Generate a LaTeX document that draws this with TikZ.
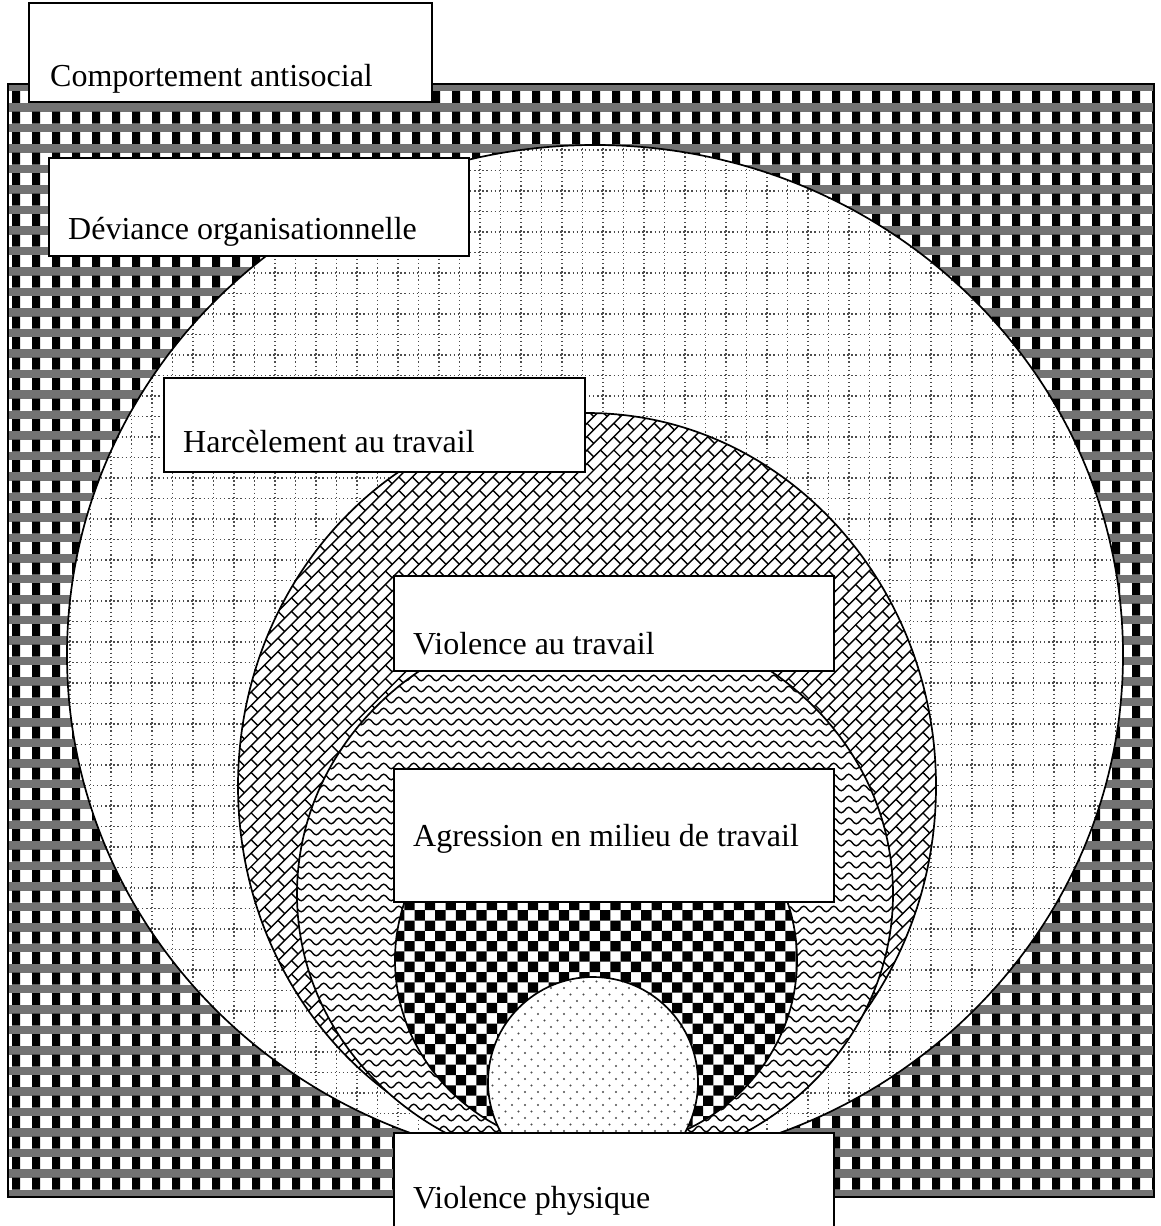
\documentclass[tikz,border=0pt]{standalone}
\usepackage{fontspec}
\setmainfont{Liberation Serif}

\tikzset{
  outline/.style={draw=black, line width=1.7pt},
  gridline/.style={line width=1.5pt, black!70, dash pattern=on 1.4pt off 2.7pt},
  brickline/.style={line width=1.4pt, black},
  waveline/.style={line width=1.4pt, black},
  box/.style={draw=black, line width=1.5pt, fill=white, inner sep=0pt, anchor=north west},
  lbl/.style={font=\fontsize{32}{38}\selectfont, anchor=base west, inner sep=0pt},
}

\begin{document}
\begin{tikzpicture}[x=1pt,y=-1pt]
\useasboundingbox (0,0) rectangle (1161,1226);
\fill[white] (0,0) rectangle (1161,1226);

% ---------- outer area: plaid ----------
\begin{scope}
  \clip (8,84) rectangle (1154,1197);
  \fill[white] (8,84) rectangle (1154,1197);
  \foreach \rr in {0,...,55} {
    \pgfmathsetmacro\yy{82.5+\rr*20.5}
    \fill[black!55] (8,\yy) rectangle (1154,\yy+8.5);
    \fill[black] \foreach \cc in {0,...,57} { ({12+\cc*20},\yy+8.5) rectangle ++(8,12) };
  }
\end{scope}
\draw[line width=1.4pt] (8,84) rectangle (1154,1197);

% ---------- Déviance: dotted grid ----------
\begin{scope}
  \clip (595,655) ellipse [x radius=528pt, y radius=510pt];
  \fill[white] (0,0) rectangle (1161,1226);
  \draw[gridline] \foreach \k in {0,...,52} { (60,{150+\k*20.5}) -- (1130,{150+\k*20.5}) };
  \draw[gridline] \foreach \k in {0,...,52} { ({70+\k*20.5},140) -- ({70+\k*20.5},1170) };
\end{scope}
\draw[outline] (595,655) ellipse [x radius=528pt, y radius=510pt];

% ---------- Harcèlement: diagonal brick ----------
\begin{scope}
  \clip (587,786) ellipse [x radius=349pt, y radius=373pt];
  \fill[white] (0,0) rectangle (1161,1226);
  \begin{scope}[shift={(587,786)}, rotate=45]
    \draw[brickline] \foreach \k in {-40,...,40} { (-380,\k*9.5) -- (380,\k*9.5) };
    \foreach \m in {-40,...,40} {
      \pgfmathsetmacro\ph{mod(\m+40,2)*9.5}
      \draw[brickline, dash pattern=on 9.5pt off 9.5pt, dash phase=\ph pt] (\m*9.5,-380) -- (\m*9.5,380);
    }
  \end{scope}
\end{scope}
\draw[outline] (587,786) ellipse [x radius=349pt, y radius=373pt];

% ---------- Violence au travail: waves ----------
\begin{scope}
  \clip (595,894) ellipse [x radius=298pt, y radius=276pt];
  \fill[white] (0,0) rectangle (1161,1226);
  \foreach \rr in {0,...,52} {
    \pgfmathsetmacro\yy{612+\rr*11}
    \draw[waveline] (290,\yy) \foreach \i in {0,...,40} { sin ++(3.75,-2.75) cos ++(3.75,2.75) sin ++(3.75,2.75) cos ++(3.75,-2.75) };
  }
\end{scope}
\draw[outline] (595,894) ellipse [x radius=298pt, y radius=276pt];

% ---------- Agression: checkerboard ----------
\begin{scope}
  \clip (596,960) ellipse [x radius=201pt, y radius=190pt];
  \fill[white] (0,0) rectangle (1161,1226);
  \foreach \rr in {0,...,38} {
    \pgfmathsetmacro\yy{766+\rr*10.3}
    \pgfmathsetmacro\xo{394+mod(\rr,2)*10.3}
    \fill[black] \foreach \cc in {0,...,20} { ({\xo+\cc*20.6},\yy) rectangle ++(10.3,10.3) };
  }
\end{scope}
\draw[outline] (596,960) ellipse [x radius=201pt, y radius=190pt];

% ---------- Violence physique: sparse dots ----------
\begin{scope}
  \clip (593,1082) circle [radius=105pt];
  \fill[white] (0,0) rectangle (1161,1226);
  \foreach \rr in {0,...,34} {
    \pgfmathsetmacro\yy{975+\rr*6.5}
    \pgfmathsetmacro\xo{486+mod(\rr,2)*6.5}
    \fill[black!70] \foreach \cc in {0,...,17} { ({\xo+\cc*13},\yy) circle [radius=1.1pt] };
  }
\end{scope}
\draw[outline] (593,1082) circle [radius=105pt];

% ---------- label boxes ----------
\node[box, minimum width=403pt, minimum height=99pt] (b1) at (28,2) {};
\node[lbl] (t1) at (50,86) {Comportement antisocial};
\node[box, minimum width=420pt, minimum height=98pt] (b2) at (48,157) {};
\node[lbl] (t2) at (68,239) {Déviance organisationnelle};
\node[box, minimum width=421pt, minimum height=94pt] (b3) at (163,377) {};
\node[lbl] (t3) at (183,452) {Harcèlement au travail};
\node[box, minimum width=440pt, minimum height=95pt] (b4) at (393,575) {};
\node[lbl] (t4) at (413,654) {Violence au travail};
\node[box, minimum width=440pt, minimum height=133pt] (b5) at (393,768) {};
\node[lbl] (t5) at (413,846) {Agression en milieu de travail};
\node[box, minimum width=440pt, minimum height=110pt] (b6) at (393,1132) {};
\node[lbl] (t6) at (413,1208) {Violence physique};
\end{tikzpicture}
\end{document}
